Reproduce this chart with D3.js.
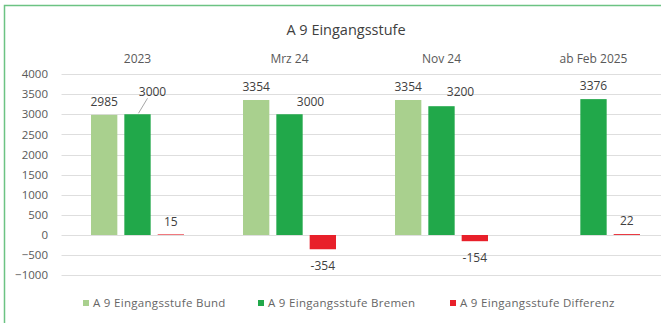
<!DOCTYPE html>
<html>
<head>
<meta charset="utf-8">
<script src="https://cdn.jsdelivr.net/npm/d3@7/dist/d3.min.js"></script>
<style>
  html, body { margin: 0; padding: 0; background: #fff; }
  svg { display: block; }
  text { font-family: "Open Sans", "Liberation Sans", sans-serif; }
</style>
</head>
<body>
<svg id="chart" width="661" height="323"></svg>
<script>
// Categories and series
const categories = ["2023", "Mrz 24", "Nov 24", "ab Feb 2025"];
const seriesNames = ["A 9 Eingangsstufe Bund", "A 9 Eingangsstufe Bremen", "A 9 Eingangsstufe Differenz"];
const bund = [2985, 3354, 3354, null];
const bremen = [3000, 3000, 3200, 3376];
const differenz = [15, -354, -154, 22];
const yTicks = [-1000, -500, 0, 500, 1000, 1500, 2000, 2500, 3000, 3500, 4000];
const colors = ["#a9d08e", "#21a84a", "#e8202a"];

const svg = d3.select("#chart");

// chart frame (extends past the visible area on the right and bottom)
svg.append("rect")
  .attr("x", 4.5).attr("y", 5.5)
  .attr("width", 700).attr("height", 400)
  .attr("fill", "#fff")
  .attr("stroke", "#6cc383").attr("stroke-width", 1.5);

// title
svg.append("text")
  .attr("x", 346).attr("y", 35)
  .attr("text-anchor", "middle")
  .attr("font-size", 14.5)
  .attr("fill", "#404040")
  .text("A 9 Eingangsstufe");

const plot = { left: 61.5, right: 669.5 };

const x0 = d3.scaleBand().domain(categories).range([plot.left, plot.right]);
const x1 = d3.scaleBand().domain(seriesNames)
  .range([29.5, x0.bandwidth() - 29.5]).paddingInner(0.21);
const y = d3.scaleLinear().domain([-1000, 4000]).range([275.25, 74]);

// gridlines
svg.append("g").selectAll("line").data(yTicks).join("line")
  .attr("x1", plot.left).attr("x2", plot.right)
  .attr("y1", d => Math.round(y(d)) + 0.5).attr("y2", d => Math.round(y(d)) + 0.5)
  .attr("stroke", "#dedede").attr("stroke-width", 1);

// y axis labels
const yAxis = d3.axisLeft(y).tickValues(yTicks).tickSize(0).tickPadding(0).tickFormat(d3.format("d"));
const gy = svg.append("g").attr("transform", "translate(48,0)").call(yAxis);
gy.select(".domain").remove();
gy.selectAll("text").attr("font-size", 11.5).attr("fill", "#595959")
  .attr("font-family", '"Open Sans", sans-serif');

// category labels along the top
const xAxis = d3.axisTop(x0).tickSize(0).tickPadding(0);
const gx = svg.append("g").attr("transform", "translate(0,63)").call(xAxis);
gx.select(".domain").remove();
gx.selectAll("text").attr("font-size", 12).attr("fill", "#595959")
  .attr("font-family", '"Open Sans", sans-serif');

// flatten series into bars
const table = [bund, bremen, differenz];
const bars = [];
categories.forEach((c, i) => {
  seriesNames.forEach((s, k) => {
    const v = table[k][i];
    if (v !== null && v !== undefined) bars.push({ cat: c, series: s, k, v });
  });
});

svg.append("g").selectAll("rect").data(bars).join("rect")
  .attr("x", d => x0(d.cat) + x1(d.series))
  .attr("width", x1.bandwidth())
  .attr("y", d => y(Math.max(0, d.v)))
  .attr("height", d => Math.abs(y(d.v) - y(0)))
  .attr("fill", d => colors[d.k]);

// label nudges for labels moved off their default spot
const nudges = { "2023|1": [15, -9], "Mrz 24|1": [21, 1], "Nov 24|1": [19, -1] };

const labels = svg.append("g");
bars.forEach(d => {
  const cx = x0(d.cat) + x1(d.series) + x1.bandwidth() / 2;
  const baseY = d.v >= 0 ? y(d.v) - 13 : y(d.v) + 17;
  const n = nudges[d.cat + "|" + d.k] || [0, 0];
  const lx = cx + n[0], ly = baseY + n[1];
  if (d.cat === "2023" && d.k === 1) {
    labels.append("line")
      .attr("x1", cx + 1).attr("y1", y(d.v) - 1)
      .attr("x2", lx - 5).attr("y2", ly + 6)
      .attr("stroke", "#a6a6a6").attr("stroke-width", 1);
  }
  labels.append("text")
    .attr("x", lx).attr("y", ly)
    .attr("dy", "0.35em")
    .attr("text-anchor", "middle")
    .attr("font-size", 12)
    .attr("fill", "#404040")
    .text(d.v);
});

// legend
const legendX = [83, 258, 450];
const lg = svg.append("g");
seriesNames.forEach((s, k) => {
  lg.append("rect")
    .attr("x", legendX[k]).attr("y", 300)
    .attr("width", 6).attr("height", 6)
    .attr("fill", colors[k]);
  lg.append("text")
    .attr("x", legendX[k] + 10).attr("y", 303)
    .attr("dy", "0.35em")
    .attr("font-size", 11.5)
    .attr("letter-spacing", 0.3)
    .attr("fill", "#666666")
    .text(s);
});
</script>
</body>
</html>
